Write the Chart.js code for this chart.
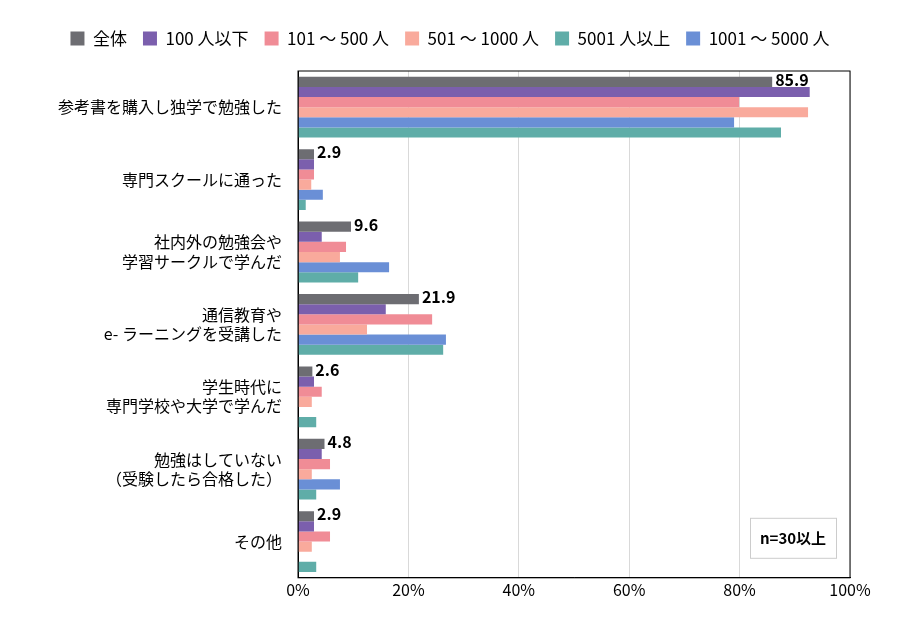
<!DOCTYPE html>
<html><head><meta charset="utf-8">
<script src="https://cdn.jsdelivr.net/npm/chart.js@4"></script>
<style>body{margin:0;background:#fff}#wrap{width:900px;height:621px;position:relative}</style>
</head><body><div id="wrap"><canvas id="c"></canvas></div>
<script>
const categories = [
  '参考書を購入し独学で勉強した', '専門スクールに通った', ['社内外の勉強会や', '学習サークルで学んだ'],
  ['通信教育や', 'e- ラーニングを受講した'], ['学生時代に', '専門学校や大学で学んだ'],
  ['勉強はしていない', '（受験したら合格した）'], 'その他'
];
const seriesNames = ['全体', '100 人以下', '101 ～ 500 人', '501 ～ 1000 人', '1001 ～ 5000 人', '5001 人以上'];
const zentai   = [85.9, 2.9, 9.6, 21.9, 2.6, 4.8, 2.9];
const s100     = [92.7, 2.9, 4.3, 15.9, 2.9, 4.3, 2.9];
const s101     = [79.9, 2.9, 8.7, 24.3, 4.3, 5.8, 5.8];
const s501     = [92.4, 2.4, 7.6, 12.5, 2.5, 2.5, 2.5];
const s1001    = [79.0, 4.5, 16.5, 26.8, 0, 7.6, 0];
const s5001    = [87.5, 1.4, 10.9, 26.3, 3.3, 3.3, 3.3];
const colors = ['#6d6d72', '#7b5fad', '#f08c96', '#f9aa9c', '#6a8fd6', '#5fada8'];
const legendOrder = [0, 1, 2, 3, 5, 4];
const ticks = [0, 20, 40, 60, 80, 100];

const FONT = '"Noto Sans CJK JP", "Noto Sans", sans-serif';
Chart.defaults.font.family = FONT;
Chart.defaults.color = '#000';

const labelPlugin = {
  id: 'labels',
  afterDatasetsDraw(chart) {
    const ctx = chart.ctx;
    const meta = chart.getDatasetMeta(0);
    ctx.save();
    ctx.font = 'bold 16px ' + FONT;
    ctx.fillStyle = '#000';
    ctx.textBaseline = 'middle';
    meta.data.forEach((bar, i) => {
      ctx.fillText(zentai[i].toFixed(1), bar.x + 3, bar.y - 2);
    });
    const a = chart.chartArea;
    const w = 86, h = 40, x = a.right - w - 14, y = a.bottom - h - 20;
    ctx.fillStyle = '#fff';
    ctx.fillRect(x, y, w, h);
    ctx.strokeStyle = '#ccc';
    ctx.lineWidth = 1;
    ctx.strokeRect(x + .5, y + .5, w, h);
    ctx.fillStyle = '#000';
    ctx.font = 'bold 15px ' + FONT;
    ctx.textAlign = 'center';
    ctx.fillText('n=30以上', x + w / 2, y + h / 2);
    ctx.restore();
  }
};

new Chart(document.getElementById('c'), {
  type: 'bar',
  data: {
    labels: categories,
    datasets: [zentai, s100, s101, s501, s1001, s5001].map((d, i) => ({
      label: seriesNames[i], data: d, backgroundColor: colors[i],
      categoryPercentage: 0.84, barPercentage: 1
    }))
  },
  options: {
    indexAxis: 'y', responsive: true, maintainAspectRatio: false, animation: false,
    layout: { padding: { left: 50, right: 50, top: 14, bottom: 18 } },
    plugins: {
      legend: {
        position: 'top',
        labels: { boxWidth: 14, boxHeight: 14, padding: 16, font: { size: 17 },
          sort: (a, b) => legendOrder.indexOf(a.datasetIndex) - legendOrder.indexOf(b.datasetIndex) }
      },
      tooltip: { enabled: false }
    },
    scales: {
      x: {
        min: 0, max: 100,
        afterBuildTicks: s => { s.ticks = ticks.map(v => ({ value: v })); },
        ticks: { callback: v => v + '%', font: { size: 16 } },
        grid: { color: '#d9d9d9', drawTicks: false },
        border: { color: '#000' }
      },
      y: {
        ticks: { font: { size: 16 }, padding: 8 },
        grid: { display: false },
        border: { color: '#000' }
      }
    }
  },
  plugins: [labelPlugin, {
    id: 'legendSpace',
    beforeInit(chart) {
      const orig = chart.legend && chart.legend.fit;
      if (chart.legend) chart.legend.fit = function () { orig.call(this); this.height += 14; };
    }
  }, {
    id: 'frame',
    afterDraw(chart) {
      const a = chart.chartArea, ctx = chart.ctx;
      ctx.save(); ctx.strokeStyle = '#000'; ctx.lineWidth = 1;
      ctx.strokeRect(a.left, a.top, a.right - a.left, a.bottom - a.top);
      ctx.restore();
    }
  }]
});
</script></body></html>
